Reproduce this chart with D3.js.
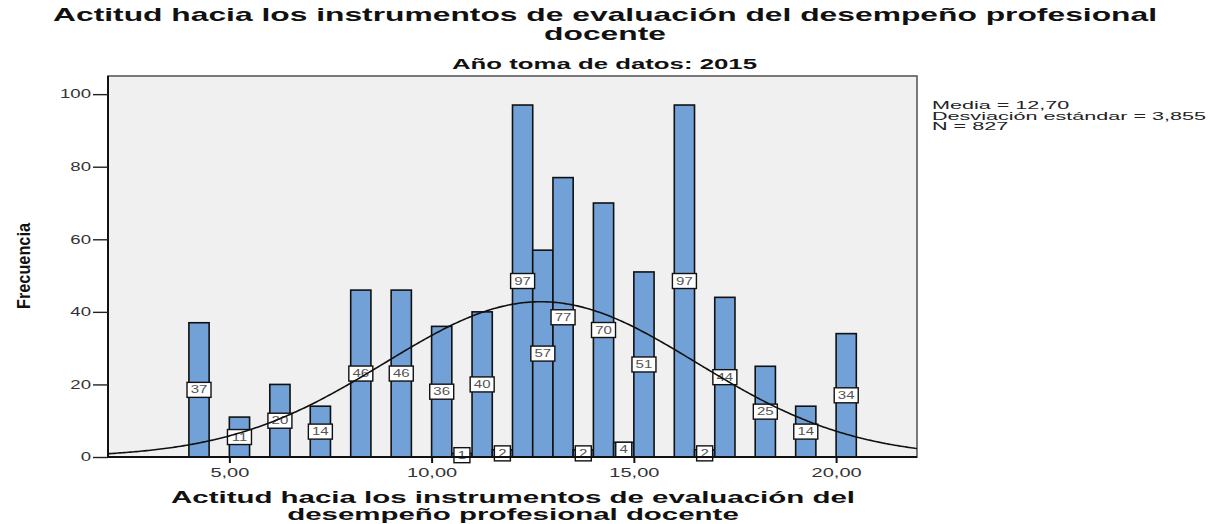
<!DOCTYPE html>
<html>
<head>
<meta charset="utf-8">
<script src="https://cdn.jsdelivr.net/npm/d3@7"></script>
<style>
  html, body { margin: 0; padding: 0; background: #ffffff; }
  svg { display: block; }
  text { font-family: "Liberation Sans", Arial, sans-serif; }
</style>
</head>
<body>
<svg id="chart" width="1220" height="524"></svg>
<script>
// Histogram data: lower edge of each 0.5-wide bin and its frequency
const binStart = [4, 5, 6, 7, 8, 9, 10, 10.5, 11, 11.5, 12, 12.5, 13, 13.5, 14, 14.5, 15, 16, 16.5, 17, 18, 19, 20];
const counts   = [37, 11, 20, 14, 46, 46, 36, 1, 40, 2, 97, 57, 77, 2, 70, 4, 51, 97, 2, 44, 25, 14, 34];
const binWidth = 0.5;

// Summary statistics used for the normal curve and the side legend
const statMean = 12.70;
const statSd = 3.855;
const statN = 827;
const statLines = ["Media = 12,70", "Desviación estándar = 3,855", "N = 827"];

// Axis ticks
const xTickValues = [5, 10, 15, 20];
const yTickValues = [0, 20, 40, 60, 80, 100];

// Texts
const titleLines = ["Actitud hacia los instrumentos de evaluación del desempeño profesional", "docente"];
const subtitle = "Año toma de datos: 2015";
const xTitleLines = ["Actitud hacia los instrumentos de evaluación del", "desempeño profesional docente"];
const yTitle = "Frecuencia";

const svg = d3.select("#chart");
const plot = { left: 108, right: 917, top: 76, bottom: 457 };

const x = d3.scaleLinear().domain([2, 22]).range([plot.left, plot.right]);
const y = d3.scaleLinear().domain([0, 105]).range([plot.bottom, plot.top]);

const esLocale = d3.formatLocale({ decimal: ",", thousands: ".", grouping: [3], currency: ["", ""] });
const fmt2 = esLocale.format(".2f");

// Stretch a text horizontally by factor k (the figure uses wide lettering)
function stretch(sel, k) {
  sel.each(function () {
    const w = this.getComputedTextLength();
    d3.select(this).attr("textLength", w * k).attr("lengthAdjust", "spacingAndGlyphs");
  });
}
function fitTo(sel, w) {
  sel.attr("textLength", w).attr("lengthAdjust", "spacingAndGlyphs");
}

// Plot background
svg.append("rect")
  .attr("x", plot.left).attr("y", plot.top)
  .attr("width", plot.right - plot.left).attr("height", plot.bottom - plot.top)
  .attr("fill", "#f0f0f0")
  .attr("stroke", "#5a5a5a").attr("stroke-width", 1.6);

// Bars
const bins = binStart.map((s, i) => ({ start: s, count: counts[i] }));
svg.append("g").selectAll("rect")
  .data(bins)
  .join("rect")
  .attr("x", d => x(d.start))
  .attr("y", d => y(d.count))
  .attr("width", d => x(d.start + binWidth) - x(d.start))
  .attr("height", d => y(0) - y(d.count))
  .attr("fill", "#72a1d7")
  .attr("stroke", "#111")
  .attr("stroke-width", 1.6);

// Value labels in the middle of each bar
const lab = svg.append("g").selectAll("g")
  .data(bins)
  .join("g")
  .attr("transform", d => `translate(${x(d.start + binWidth / 2)},${y(d.count / 2)})`);
lab.append("rect")
  .attr("x", d => String(d.count).length > 1 ? -12 : -8)
  .attr("y", -7.5)
  .attr("width", d => String(d.count).length > 1 ? 24 : 16)
  .attr("height", 15)
  .attr("fill", "#ffffff")
  .attr("stroke", "#111")
  .attr("stroke-width", 1.4);
lab.append("text")
  .attr("text-anchor", "middle")
  .attr("dy", "0.36em")
  .attr("font-size", 10)
  .attr("fill", "#555")
  .text(d => d.count)
  .call(stretch, 1.5);

// Normal curve from the summary statistics
const scale = statN * binWidth / (statSd * Math.sqrt(2 * Math.PI));
const curvePts = d3.range(2, 22.001, 0.05).map(v => [v, scale * Math.exp(-0.5 * Math.pow((v - statMean) / statSd, 2))]);
svg.append("path")
  .datum(curvePts)
  .attr("d", d3.line().x(d => x(d[0])).y(d => y(d[1])).curve(d3.curveBasis))
  .attr("fill", "none")
  .attr("stroke", "#111")
  .attr("stroke-width", 1.6);

// Axes
const yAxis = svg.append("g")
  .attr("transform", `translate(${plot.left},0)`)
  .call(d3.axisLeft(y).tickValues(yTickValues).tickSize(15).tickPadding(2).tickSizeOuter(0));
yAxis.select(".domain").attr("stroke", "#111").attr("stroke-width", 2).attr("d", `M0,${plot.top}V${plot.bottom}`);
yAxis.selectAll(".tick line").attr("stroke", "#222").attr("stroke-width", 1.4);
yAxis.selectAll(".tick text")
  .attr("font-size", 12).attr("fill", "#333").attr("font-family", "Liberation Sans, Arial, sans-serif")
  .call(stretch, 1.55);

const xAxis = svg.append("g")
  .attr("transform", `translate(0,${plot.bottom})`)
  .call(d3.axisBottom(x).tickValues(xTickValues).tickFormat(fmt2).tickSize(6).tickPadding(5).tickSizeOuter(0));
xAxis.select(".domain").attr("stroke", "#111").attr("stroke-width", 2).attr("d", `M${plot.left},0H${plot.right}`);
xAxis.selectAll(".tick line").attr("stroke", "#111").attr("stroke-width", 2);
xAxis.selectAll(".tick text")
  .attr("font-size", 12.5).attr("fill", "#333").attr("font-family", "Liberation Sans, Arial, sans-serif")
  .call(stretch, 1.6);

// Main title (two lines)
const t1 = svg.append("text").attr("x", 605).attr("y", 21)
  .attr("text-anchor", "middle").attr("font-size", 19).attr("font-weight", "bold").attr("fill", "#111")
  .text(titleLines[0]);
const tk = 1104 / t1.node().getComputedTextLength();
fitTo(t1, 1104);
svg.append("text").attr("x", 605).attr("y", 40)
  .attr("text-anchor", "middle").attr("font-size", 19).attr("font-weight", "bold").attr("fill", "#111")
  .text(titleLines[1])
  .call(stretch, tk);

// Subtitle
svg.append("text").attr("x", 604.5).attr("y", 69)
  .attr("text-anchor", "middle").attr("font-size", 15).attr("font-weight", "bold").attr("fill", "#111")
  .text(subtitle)
  .call(fitTo, 305);

// X axis title (two lines)
const xt1 = svg.append("text").attr("x", 513).attr("y", 503)
  .attr("text-anchor", "middle").attr("font-size", 16).attr("font-weight", "bold").attr("fill", "#111")
  .text(xTitleLines[0]);
const xk = 684 / xt1.node().getComputedTextLength();
fitTo(xt1, 684);
svg.append("text").attr("x", 513).attr("y", 520)
  .attr("text-anchor", "middle").attr("font-size", 16).attr("font-weight", "bold").attr("fill", "#111")
  .text(xTitleLines[1])
  .call(stretch, xk);

// Y axis title
svg.append("text")
  .attr("transform", "translate(30,266) rotate(-90)")
  .attr("text-anchor", "middle")
  .attr("font-family", "Liberation Sans Narrow, DejaVu Sans Condensed, sans-serif")
  .attr("font-size", 19).attr("font-weight", "bold").attr("fill", "#111")
  .text(yTitle)
  .call(fitTo, 86);

// Statistics legend
const st = svg.append("g").selectAll("text")
  .data(statLines)
  .join("text")
  .attr("x", 932)
  .attr("y", (d, i) => 109 + i * 10.5)
  .attr("font-size", 10.5).attr("fill", "#222")
  .text(d => d);
const sk = 274 / st.nodes()[1].getComputedTextLength();
st.call(stretch, sk);
</script>
</body>
</html>
